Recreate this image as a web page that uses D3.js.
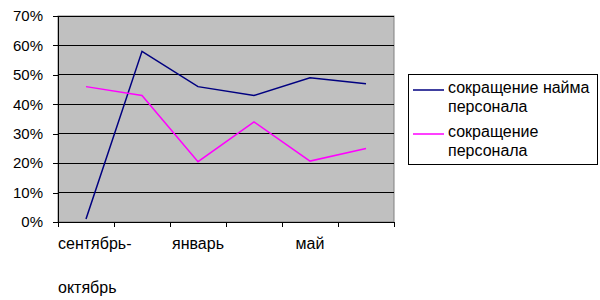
<!DOCTYPE html>
<html>
<head>
<meta charset="utf-8">
<script src="https://cdn.jsdelivr.net/npm/d3@7"></script>
<style>
  body { margin: 0; background: #fff; }
  svg { display: block; font-family: 'Liberation Sans', Arial, sans-serif; }
</style>
</head>
<body>
<svg id="chart" width="600" height="300"></svg>
<script>
const categories = ['сентябрь-октябрь', 'ноябрь-декабрь', 'январь', 'февраль-март', 'май', 'июнь']
const shownLabels = [['сентябрь-', 'октябрь'], null, ['январь'], null, ['май'], null]
const hiringCut = [0.01, 0.58, 0.46, 0.43, 0.49, 0.47]
const staffCut = [0.46, 0.43, 0.205, 0.34, 0.207, 0.25]
const yTicks = [0, 0.1, 0.2, 0.3, 0.4, 0.5, 0.6, 0.7]

const series = [
  { name: ['сокращение найма', 'персонала'], values: hiringCut, color: '#000080' },
  { name: ['сокращение', 'персонала'], values: staffCut, color: '#ff00ff' }
]

const svg = d3.select('#chart')
const plot = { left: 58, right: 394, top: 16, bottom: 222 }

const x = d3.scaleBand().domain(categories).range([plot.left, plot.right])
const y = d3.scaleLinear().domain([0, 0.7]).range([plot.bottom, plot.top])

// plot background
svg.append('rect')
  .attr('x', plot.left).attr('y', plot.top)
  .attr('width', plot.right - plot.left).attr('height', plot.bottom - plot.top)
  .attr('fill', '#c0c0c0')
  .attr('stroke', '#808080')

// gridlines
svg.append('g')
  .selectAll('line')
  .data(yTicks.slice(1))
  .join('line')
  .attr('x1', plot.left).attr('x2', plot.right)
  .attr('y1', d => y(d)).attr('y2', d => y(d))
  .attr('stroke', '#000')
  .attr('stroke-width', 1)
  .attr('shape-rendering', 'crispEdges')

// y axis
const yAxis = svg.append('g')
  .attr('transform', `translate(${plot.left},0)`)
  .call(d3.axisLeft(y).tickValues(yTicks).tickFormat(d3.format('.0%')).tickSize(5).tickPadding(10))
yAxis.select('.domain').attr('stroke', '#000').attr('shape-rendering', 'crispEdges')
yAxis.selectAll('.tick line').attr('stroke', '#000').attr('shape-rendering', 'crispEdges')
yAxis.selectAll('text').attr('font-size', 15).attr('fill', '#000').attr('font-family', 'Liberation Sans, Arial, sans-serif')

// x axis
const xAxis = svg.append('g')
  .attr('transform', `translate(0,${plot.bottom})`)
  .call(d3.axisBottom(x).tickSize(0).tickFormat(''))
xAxis.select('.domain').attr('stroke', '#000').attr('shape-rendering', 'crispEdges')

const boundaries = categories.map(c => x(c)).concat([plot.right])
svg.append('g')
  .selectAll('line')
  .data(boundaries)
  .join('line')
  .attr('x1', d => d).attr('x2', d => d)
  .attr('y1', plot.bottom).attr('y2', plot.bottom + 5)
  .attr('stroke', '#000')
  .attr('shape-rendering', 'crispEdges')

// category labels (Excel skips every other one)
const labelG = svg.append('g').attr('font-size', 16).attr('fill', '#000')
categories.forEach((c, i) => {
  const lines = shownLabels[i]
  if (!lines) return
  const cx = x(c) + x.bandwidth() / 2
  lines.forEach((t, j) => {
    labelG.append('text')
      .attr('x', lines.length > 1 ? plot.left : cx)
      .attr('y', 249 + j * 44)
      .attr('text-anchor', lines.length > 1 ? 'start' : 'middle')
      .text(t)
  })
})

// lines
const line = d3.line()
  .x((d, i) => x(categories[i]) + x.bandwidth() / 2)
  .y(d => y(d))

svg.append('g')
  .selectAll('path')
  .data(series)
  .join('path')
  .attr('d', d => line(d.values))
  .attr('fill', 'none')
  .attr('stroke', d => d.color)
  .attr('stroke-width', 1.5)

// legend
const legend = svg.append('g')
legend.append('rect')
  .attr('x', 408.5).attr('y', 74.5)
  .attr('width', 189).attr('height', 90)
  .attr('fill', '#fff')
  .attr('stroke', '#000')

series.forEach((s, i) => {
  const top = 90 + i * 44
  legend.append('line')
    .attr('x1', 413).attr('x2', 444)
    .attr('y1', top).attr('y2', top)
    .attr('stroke', s.color)
    .attr('stroke-width', 1.5)
  s.name.forEach((t, j) => {
    legend.append('text')
      .attr('x', 448)
      .attr('y', top + 3 + j * 19)
      .attr('font-size', 16)
      .attr('fill', '#000')
      .text(t)
  })
})
</script>
</body>
</html>
